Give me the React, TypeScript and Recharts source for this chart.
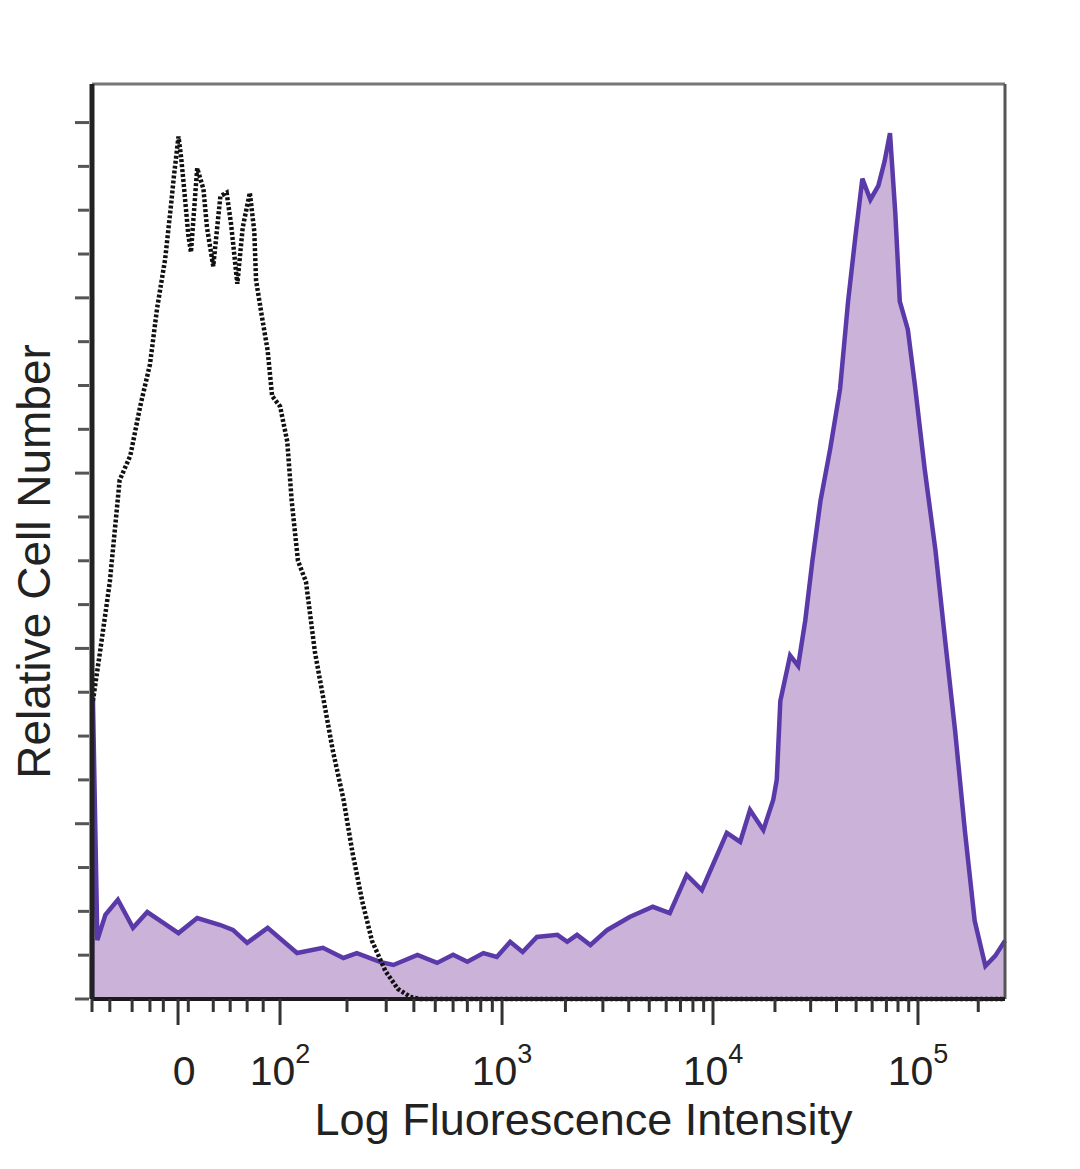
import { ComposedChart, Area, Line, XAxis, YAxis, ReferenceLine, Label } from "recharts";

// x = display channel (0-1024, biexponential display), y = events per bin
const stainedX = [0, 1, 6, 15, 29, 46, 62, 80, 97, 118, 144, 158, 174, 197, 230, 259, 282, 297, 323, 338, 365, 387, 405, 421, 439, 454, 469, 483, 499, 522, 533, 544, 559, 578, 603, 629, 648, 667, 684, 712, 727, 738, 753, 764, 768, 772, 783, 792, 800, 808, 817, 828, 839, 848, 856, 864, 873, 882, 889, 895, 901, 906, 915, 923, 934, 946, 957, 968, 979, 990, 1002, 1013, 1024];
const stainedY = [0, 86, 16.8, 24, 28.3, 20.3, 24.8, 21.7, 18.8, 23.1, 21.1, 19.7, 16, 20.3, 13.1, 14.6, 11.7, 13.1, 10.6, 9.7, 12.6, 10.3, 12.6, 10.6, 13.1, 12, 16.3, 13.4, 17.7, 18.3, 16.3, 18.3, 15.4, 19.7, 23.4, 26.3, 24.5, 35.4, 31.1, 47.4, 44.8, 53.9, 48.2, 56.8, 62.5, 85, 98, 95, 108, 125, 142, 157, 174, 199, 217, 234, 228, 232, 239, 247, 224, 199, 191, 175, 151, 128, 102, 76.6, 48, 22.3, 9.4, 12.3, 16.6];

const isotypeX = [1, 9, 20, 31, 43, 54, 65, 73, 82, 88, 92, 97, 100, 103, 108, 111, 118, 125, 129, 136, 144, 151, 156, 163, 169, 177, 182, 184, 191, 197, 202, 211, 219, 224, 231, 240, 250, 260, 270, 282, 292, 303, 314, 329, 343, 357, 368, 1024];
const isotypeY = [85, 99, 119, 148, 155, 169, 181, 197, 211, 225, 235, 246, 240, 232, 218, 213, 237, 231, 220, 209, 229, 230, 221, 204, 220, 230, 219, 205, 194, 185, 172, 169, 159, 142, 125, 119, 99, 85, 71, 57, 42, 28, 16.6, 8, 2.9, 0.6, 0, 0];

// axis ticks (channel positions)
const majorTicks = [96.5, 210.9, 459.9, 696.5, 926.4];
const majorExponents = ["", "2", "3", "4", "5"];
const minorTicks = [0, 20, 45, 65, 80, 108, 136, 155, 174, 192, 286, 330, 361, 385, 405, 421, 436, 449, 531, 573, 602, 625, 644, 660, 674, 686, 766, 806, 835, 857, 875, 891, 904, 916, 994];
const yTicks = [0, 12.5, 25, 37.5, 50, 62.5, 75, 87.5, 100, 112.5, 125, 137.5, 150, 162.5, 175, 187.5, 200, 212.5, 225, 237.5, 250];

const stained = stainedX.map((x, i) => ({ x, y: stainedY[i] }));
const isotype = isotypeX.map((x, i) => ({ x, y: isotypeY[i] }));
const xTicks = [...minorTicks, ...majorTicks].sort((a, b) => a - b);

const FONT = "'Liberation Sans', Arial, sans-serif";

const XTick = ({ x, y, payload }: any) => {
  const i = majorTicks.indexOf(payload.value);
  const major = i >= 0;
  return (
    <g>
      <line x1={x} x2={x} y1={y} y2={y + (major ? 26 : 13)} stroke="#333" strokeWidth={3} />
      {major && i === 0 && (
        <text x={x + 6} y={y + 86} textAnchor="middle" fontSize={41} fill="#222" fontFamily={FONT}>0</text>
      )}
      {major && i > 0 && (
        <text x={x} y={y + 86} textAnchor="middle" fontSize={41} fill="#222" fontFamily={FONT}>
          <tspan>10</tspan>
          <tspan dy={-22} fontSize={27}>{majorExponents[i]}</tspan>
        </text>
      )}
    </g>
  );
};

const YTick = ({ x, y, payload }: any) => {
  const major = payload.value % 50 === 0;
  return <line x1={x - (major ? 17 : 14)} x2={x - 3} y1={y} y2={y} stroke="#555" strokeWidth={3} />;
};

const xTitle = ({ viewBox }: any) => (
  <text x={viewBox.x + viewBox.width / 2 + 35} y={viewBox.y + 136} textAnchor="middle" fontSize={45} fill="#222" fontFamily={FONT}>
    Log Fluorescence Intensity
  </text>
);

const yTitle = ({ viewBox }: any) => {
  const cx = viewBox.x - 12;
  const cy = viewBox.y + viewBox.height / 2 + 20;
  return (
    <text x={cx} y={cy} transform={`rotate(-90 ${cx} ${cy})`} textAnchor="middle" fontSize={46} fill="#222" fontFamily={FONT}>
      Relative Cell Number
    </text>
  );
};

export default function App() {
  return (
    <ComposedChart width={1064} height={1150} margin={{ top: 76, right: 67, left: 54, bottom: 39 }}>
      <XAxis
        dataKey="x"
        type="number"
        domain={[0, 1024]}
        ticks={xTicks}
        interval={0}
        tickSize={0}
        tickMargin={0}
        tick={<XTick />}
        height={120}
        axisLine={{ stroke: "#1b1b1b", strokeWidth: 4 }}
        allowDuplicatedCategory={false}
      >
        <Label content={xTitle} />
      </XAxis>
      <YAxis
        type="number"
        domain={[0, 261]}
        ticks={yTicks}
        interval={0}
        tickSize={0}
        tickMargin={0}
        tick={<YTick />}
        width={30}
        axisLine={{ stroke: "#222", strokeWidth: 5 }}
      >
        <Label content={yTitle} />
      </YAxis>
      <ReferenceLine y={261} stroke="#777" strokeWidth={3} />
      <ReferenceLine x={1024} stroke="#555" strokeWidth={3} />
      <Area
        data={stained}
        dataKey="y"
        type="linear"
        stroke="#5a3aa8"
        strokeWidth={4.5}
        fill="#cbb2d9"
        fillOpacity={1}
        baseValue={0}
        dot={false}
        activeDot={false}
        isAnimationActive={false}
      />
      <Line
        data={isotype}
        dataKey="y"
        type="linear"
        stroke="#111"
        strokeWidth={4.5}
        strokeDasharray="3 2"
        dot={false}
        activeDot={false}
        isAnimationActive={false}
      />
    </ComposedChart>
  );
}
